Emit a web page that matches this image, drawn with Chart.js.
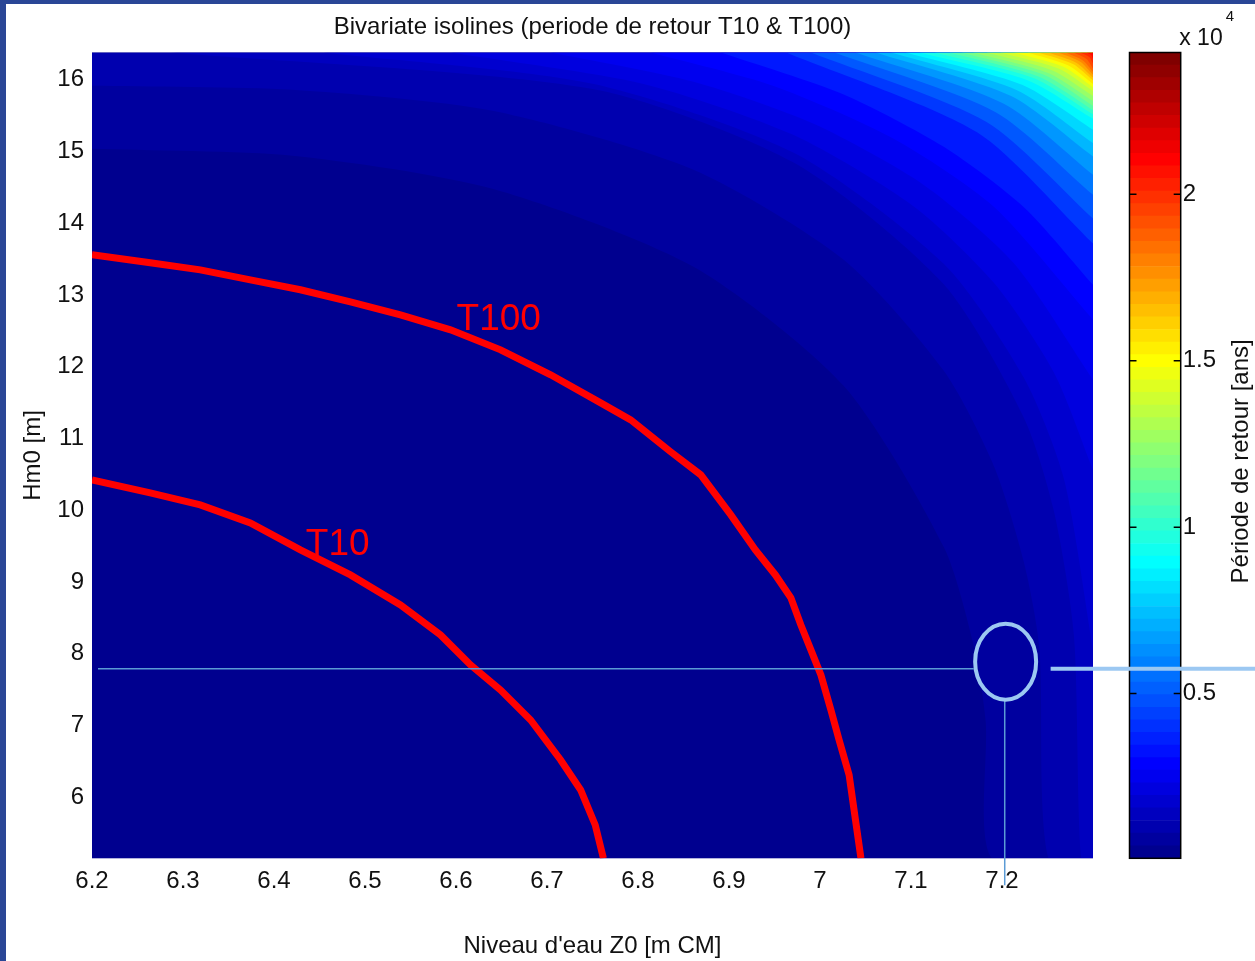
<!DOCTYPE html>
<html>
<head>
<meta charset="utf-8">
<script src="https://cdn.jsdelivr.net/npm/chart.js@4.4.1/dist/chart.umd.min.js"></script>
<style>
  html, body { margin: 0; padding: 0; }
  body { width: 1255px; height: 961px; background: #2a4696; position: relative; overflow: hidden; }
  #paper { position: absolute; left: 6px; top: 4px; right: 0; bottom: 0; background: #fff; }
  #barCanvas { position: absolute; left: 1100px; top: 0; z-index: 1; }
  #mainCanvas { position: absolute; left: 0; top: 0; z-index: 2; }
</style>
</head>
<body>
<div id="paper"></div>
<canvas id="barCanvas" width="155" height="961"></canvas>
<canvas id="mainCanvas" width="1255" height="961"></canvas>
<script>
const fontFamily = "'Liberation Sans', Arial, sans-serif";

// axes
const xTicks = [6.2, 6.3, 6.4, 6.5, 6.6, 6.7, 6.8, 6.9, 7.0, 7.1, 7.2];
const xTickLabels = ['6.2', '6.3', '6.4', '6.5', '6.6', '6.7', '6.8', '6.9', '7', '7.1', '7.2'];
const yTicks = [6, 7, 8, 9, 10, 11, 12, 13, 14, 15, 16];
const xMin = 6.2, xMax = 7.3, yMin = 5.15, yMax = 16.38;

// colour scale (return period, years)
const cMin = 50, cMax = 24260;
const cbTicks = [5000, 10000, 15000, 20000];
const cbTickLabels = ['0.5', '1', '1.5', '2'];

// red isolines
const t10X = [6.2, 6.264, 6.319, 6.374, 6.429, 6.484, 6.539, 6.583, 6.616, 6.649, 6.682, 6.715, 6.737, 6.753, 6.762];
const t10Y = [10.424, 10.243, 10.075, 9.824, 9.448, 9.099, 8.681, 8.263, 7.845, 7.496, 7.078, 6.52, 6.102, 5.614, 5.15];
const t100X = [6.2, 6.264, 6.319, 6.374, 6.429, 6.484, 6.539, 6.594, 6.649, 6.704, 6.759, 6.792, 6.836, 6.869,
  6.902, 6.929, 6.951, 6.968, 6.979, 6.99, 7.001, 7.012, 7.021, 7.032, 7.039, 7.045];
const t100Y = [13.561, 13.449, 13.351, 13.212, 13.073, 12.905, 12.724, 12.515, 12.236, 11.888, 11.497, 11.26, 10.814, 10.494,
  9.936, 9.448, 9.099, 8.779, 8.402, 8.054, 7.705, 7.217, 6.799, 6.311, 5.684, 5.15];

const labelText = ['T10', 'T100'];
const labelX = [6.47, 6.647];
const labelY = [9.518, 12.655];

// traced level curves of the colour field (years)
const isoLevels = [428, 807, 1185, 1563, 1941, 2320, 2698, 3076, 3833, 4589, 5346, 6103, 6859, 7616, 8372, 9129,
  9885, 10642, 11398, 12155, 12911, 13668, 14425, 15181, 15938, 16694, 17451, 18207, 18964, 19721, 20477, 21234];
const isoX = [
  [6.2, 6.42, 6.64, 6.861, 7.026, 7.136, 7.169, 7.182, 7.189, 7.3],
  [6.2, 6.42, 6.64, 6.861, 7.026, 7.136, 7.191, 7.224, 7.241, 7.251, 7.3],
  [6.286, 6.75, 6.971, 7.136, 7.224, 7.257, 7.279, 7.287, 7.3],
  [6.454, 6.75, 6.971, 7.136, 7.224, 7.268, 7.3],
  [6.594, 6.806, 6.971, 7.103, 7.191, 7.257, 7.3],
  [6.704, 6.861, 6.993, 7.114, 7.213, 7.3],
  [6.814, 6.949, 7.081, 7.191, 7.3],
  [6.891, 7.026, 7.136, 7.224, 7.3],
  [6.963, 7.173, 7.3], [6.99, 7.183, 7.3], [7.016, 7.193, 7.3], [7.039, 7.202, 7.3],
  [7.061, 7.21, 7.3], [7.078, 7.217, 7.3], [7.094, 7.222, 7.3], [7.109, 7.228, 7.3],
  [7.126, 7.235, 7.3], [7.142, 7.24, 7.3], [7.155, 7.246, 7.3], [7.168, 7.25, 7.3],
  [7.183, 7.256, 7.3], [7.198, 7.262, 7.3], [7.213, 7.268, 7.3], [7.228, 7.273, 7.3],
  [7.24, 7.278, 7.3], [7.251, 7.282, 7.3], [7.262, 7.286, 7.3], [7.27, 7.289, 7.3],
  [7.279, 7.293, 7.3], [7.286, 7.296, 7.3], [7.293, 7.298, 7.3], [7.299, 7.3]
];
const isoY = [
  [15.038, 14.941, 14.481, 13.393, 11.734, 9.49, 8.11, 7.064, 5.15, 5.15],
  [15.917, 15.861, 15.568, 14.746, 13.491, 11.943, 10.619, 9.281, 8.082, 5.15, 5.15],
  [16.38, 15.872, 14.846, 13.149, 11.291, 9.99, 8.259, 5.15, 5.15],
  [16.38, 15.945, 14.983, 13.435, 11.846, 10.438, 8.054],
  [16.38, 15.942, 15.229, 14.235, 13.17, 11.921, 10.563],
  [16.38, 15.972, 15.386, 14.535, 13.444, 11.818],
  [16.38, 15.914, 15.178, 14.23, 12.655],
  [16.38, 15.795, 15.065, 14.223, 13.142],
  [16.38, 15.264, 13.717], [16.38, 15.411, 14.066], [16.38, 15.549, 14.397], [16.38, 15.666, 14.676],
  [16.38, 15.773, 14.931], [16.38, 15.852, 15.118], [16.38, 15.929, 15.303], [16.38, 15.995, 15.458],
  [16.38, 16.02, 15.518], [16.38, 16.045, 15.577], [16.38, 16.07, 15.636], [16.38, 16.098, 15.704],
  [16.38, 16.127, 15.774], [16.38, 16.156, 15.843], [16.38, 16.179, 15.896], [16.38, 16.198, 15.942],
  [16.38, 16.218, 15.989], [16.38, 16.235, 16.03], [16.38, 16.251, 16.07], [16.38, 16.269, 16.11],
  [16.38, 16.289, 16.156], [16.38, 16.317, 16.225], [16.38, 16.345, 16.292], [16.38, 16.36]
];

// annotation drawn over the figure
const markX = 7.203, markY = 7.79;
const ringX = 7.204, ringY = 7.89;

const bandStep = (cMax - cMin) / 64;

function jet(t) {
  const c = v => Math.round(255 * Math.min(1, Math.max(0, v)));
  return `rgb(${c(1.5 - Math.abs(4 * t - 3))},${c(1.5 - Math.abs(4 * t - 2))},${c(1.5 - Math.abs(4 * t - 1))})`;
}

function colourBetween(lo, hi) {
  const mid = (lo + hi) / 2;
  return jet((mid - cMin) / (cMax - cMin) + 0.5 / 64);
}

const pts = (xs, ys) => xs.map((v, i) => ({ x: v, y: ys[i] }));

const isoDatasets = isoLevels.map((lvl, i) => {
  const next = i + 1 < isoLevels.length ? isoLevels[i + 1] : lvl + bandStep;
  return {
    data: pts(isoX[i], isoY[i]),
    fill: 'end',
    backgroundColor: colourBetween(lvl, next),
    borderColor: 'rgba(0,0,0,0)',
    borderWidth: 0,
    pointRadius: 0,
    tension: 0.25,
    order: 100 - i
  };
});

const redLine = (xs, ys) => ({
  data: pts(xs, ys),
  fill: false,
  borderColor: '#ff0000',
  borderWidth: 7,
  pointRadius: 0,
  tension: 0,
  clip: 0,
  order: 0
});

const figurePlugin = {
  id: 'figure',
  beforeDatasetsDraw(chart) {
    const { ctx, chartArea: a } = chart;
    ctx.save();
    ctx.fillStyle = colourBetween(cMin, cMin + bandStep);
    ctx.fillRect(a.left, a.top, a.right - a.left, a.bottom - a.top);
    ctx.restore();
  },
  afterDatasetsDraw(chart) {
    const { ctx, scales: { x, y } } = chart;
    ctx.save();
    ctx.fillStyle = '#ff0000';
    ctx.font = '37px ' + fontFamily;
    ctx.textAlign = 'center';
    ctx.textBaseline = 'middle';
    labelText.forEach((t, i) => ctx.fillText(t, x.getPixelForValue(labelX[i]), y.getPixelForValue(labelY[i])));
    ctx.restore();
  },
  afterDraw(chart) {
    const { ctx, scales: { x, y }, chartArea: a } = chart;
    const px = x.getPixelForValue(markX), py = y.getPixelForValue(markY);
    const cx = x.getPixelForValue(ringX), cy = y.getPixelForValue(ringY);
    ctx.save();
    ctx.strokeStyle = '#5b9bd5';
    ctx.lineWidth = 1.5;
    ctx.beginPath();
    ctx.moveTo(a.left + 6, py);
    ctx.lineTo(cx - 32, py);
    ctx.moveTo(px, cy + 39);
    ctx.lineTo(px, a.bottom + 27);
    ctx.stroke();
    ctx.strokeStyle = '#9cc8f2';
    ctx.lineWidth = 4;
    ctx.beginPath();
    ctx.ellipse(cx, cy, 30.5, 38, 0, 0, Math.PI * 2);
    ctx.stroke();
    ctx.beginPath();
    ctx.moveTo(cx + 45, py);
    ctx.lineTo(chart.width, py);
    ctx.stroke();
    ctx.restore();
  }
};

const textFont = { family: fontFamily, size: 24, weight: 'normal' };

new Chart(document.getElementById('mainCanvas'), {
  type: 'line',
  data: {
    datasets: [...isoDatasets, redLine(t10X, t10Y), redLine(t100X, t100Y)]
  },
  options: {
    responsive: false,
    animation: false,
    devicePixelRatio: 1,
    layout: { padding: { left: 0, right: 162, top: 0, bottom: 0 } },
    plugins: {
      legend: { display: false },
      tooltip: { enabled: false },
      title: {
        display: true,
        text: 'Bivariate isolines (periode de retour T10 & T100)',
        color: '#111',
        font: textFont,
        fullSize: false,
        padding: { top: 12.6, bottom: 11.1 }
      }
    },
    scales: {
      x: {
        type: 'linear',
        min: xMin,
        max: xMax,
        grid: { display: false, drawTicks: false },
        border: { display: false },
        afterFit: s => { s.height = 102.7; },
        afterBuildTicks: s => { s.ticks = xTicks.map(v => ({ value: v })); },
        ticks: {
          color: '#111', font: textFont, padding: 9, autoSkip: false, maxRotation: 0,
          callback: (v, i) => xTickLabels[i]
        },
        title: { display: true, text: "Niveau d'eau Z0 [m CM]", color: '#111', font: textFont, padding: { top: 0, bottom: 0.6 } }
      },
      y: {
        type: 'linear',
        min: yMin,
        max: yMax,
        grid: { display: false, drawTicks: false },
        border: { display: false },
        afterFit: s => { s.width = 92; },
        afterBuildTicks: s => { s.ticks = yTicks.map(v => ({ value: v })); },
        ticks: { color: '#111', font: textFont, padding: 8, autoSkip: false },
        title: { display: true, text: 'Hm0 [m]', color: '#111', font: textFont, padding: { top: 18.6, bottom: 0 } }
      }
    }
  },
  plugins: [figurePlugin]
});

// colour bar
const bandIndex = [];
for (let k = 1; k <= 64; k++) bandIndex.push(k);

const colourBarPlugin = {
  id: 'colourBarFrame',
  afterDatasetsDraw(chart) {
    const { ctx, chartArea: a, scales: { y } } = chart;
    ctx.save();
    ctx.strokeStyle = '#000';
    ctx.lineWidth = 1.5;
    ctx.strokeRect(a.left, a.top, a.right - a.left, a.bottom - a.top);
    ctx.beginPath();
    cbTicks.forEach(v => {
      const ty = y.getPixelForValue(v);
      ctx.moveTo(a.left, ty); ctx.lineTo(a.left + 7, ty);
      ctx.moveTo(a.right - 7, ty); ctx.lineTo(a.right, ty);
    });
    ctx.stroke();
    ctx.fillStyle = '#111';
    ctx.textBaseline = 'alphabetic';
    ctx.textAlign = 'left';
    ctx.font = '23px ' + fontFamily;
    ctx.fillText('x 10', a.right - 1.5, 44.5);
    ctx.font = '15px ' + fontFamily;
    ctx.fillText('4', a.right + 45, 21);
    ctx.translate(141, (a.top + a.bottom) / 2 + 6);
    ctx.rotate(-Math.PI / 2);
    ctx.textAlign = 'center';
    ctx.textBaseline = 'middle';
    ctx.font = '24px ' + fontFamily;
    ctx.fillText('Période de retour [ans]', 0, 0);
    ctx.restore();
  }
};

new Chart(document.getElementById('barCanvas'), {
  type: 'bar',
  data: {
    labels: [''],
    datasets: bandIndex.map(k => ({
      data: [[cMin + (k - 1) * bandStep, cMin + k * bandStep]],
      backgroundColor: jet(k / 64),
      borderWidth: 0,
      grouped: false,
      barPercentage: 1,
      categoryPercentage: 1
    }))
  },
  options: {
    responsive: false,
    animation: false,
    devicePixelRatio: 1,
    layout: { padding: { left: 29.5, right: 0, top: 52.5, bottom: 102.7 } },
    plugins: { legend: { display: false }, tooltip: { enabled: false } },
    scales: {
      x: { display: false },
      y: {
        position: 'right',
        min: cMin,
        max: cMax,
        grid: { display: false, drawTicks: false },
        border: { display: false },
        afterFit: s => { s.width = 74.3; },
        afterBuildTicks: s => { s.ticks = cbTicks.map(v => ({ value: v })); },
        ticks: { color: '#111', font: textFont, padding: 2, callback: (v, i) => cbTickLabels[i] }
      }
    }
  },
  plugins: [colourBarPlugin]
});
</script>
</body>
</html>
